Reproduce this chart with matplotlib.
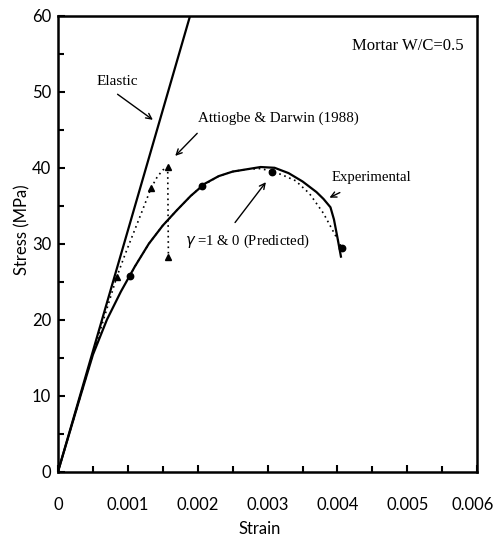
import matplotlib
matplotlib.use("Agg")
import matplotlib.pyplot as plt
from matplotlib.ticker import MultipleLocator, FixedLocator
from matplotlib.transforms import ScaledTranslation

plt.rcParams['font.family'] = ['Liberation Serif', 'DejaVu Serif']

# Elastic line
elastic_strain = [0.0, 0.00189]
elastic_stress = [0.0, 60.0]

# Experimental curve
exp_strain = [0.0, 0.0003, 0.0005, 0.0007, 0.0009, 0.0011, 0.0013, 0.0015, 0.0017,
              0.0019, 0.0021, 0.0023, 0.0025, 0.0027, 0.0029, 0.0031, 0.0033,
              0.0035, 0.0037, 0.0038, 0.0039, 0.00395, 0.0040, 0.00405]
exp_stress = [0.0, 9.3, 15.4, 20.0, 23.7, 27.0, 30.0, 32.4, 34.4,
              36.3, 37.9, 38.9, 39.5, 39.8, 40.1, 40.0, 39.3,
              38.2, 36.8, 35.9, 34.8, 33.2, 30.8, 28.3]

# Predicted (gamma = 1 & 0)
pred_strain = [0.00103, 0.0011, 0.0013, 0.0015, 0.0017, 0.0019, 0.00206, 0.0023,
               0.0025, 0.0027, 0.0029, 0.00307, 0.0032, 0.0034, 0.0036, 0.0038,
               0.0039, 0.0040, 0.00406]
pred_stress = [25.8, 27.0, 30.0, 32.4, 34.4, 36.3, 37.6, 38.9,
               39.5, 39.8, 39.9, 39.5, 39.1, 38.3, 36.6, 34.0,
               32.3, 30.6, 29.5]
pred_marker_idx = [0, 6, 11, 18]

# Attiogbe & Darwin (1988)
att_strain = [0.0, 0.0005, 0.00084, 0.00096, 0.00108, 0.0012, 0.00133, 0.00142,
              0.0015, 0.00157, 0.00158]
att_stress = [0.0, 15.5, 25.6, 28.6, 31.4, 34.2, 37.3, 38.8, 39.7, 40.1, 28.2]
att_marker_idx = [2, 6, 9, 10]

xtick_vals = [0, 0.001, 0.002, 0.003, 0.004, 0.005, 0.006]
xtick_labels = ['0', '0.001', '0.002', '0.003', '0.004', '0.005', '0.006']

fig = plt.figure(figsize=(4.96, 5.36), dpi=100)
ax = fig.add_axes([0.117, 0.1203, 0.845, 0.850])

ax.plot(elastic_strain, elastic_stress, color='black', lw=1.6)
ax.plot(exp_strain, exp_stress, color='black', lw=1.6)
ax.plot(pred_strain, pred_stress, color='black', lw=1.2, ls=(0, (1, 2.2)),
        marker='o', ms=4.6, markevery=pred_marker_idx)
ax.plot(att_strain, att_stress, color='black', lw=1.2, ls=(0, (1, 2.2)),
        marker='^', ms=4.6, markevery=att_marker_idx)

ax.set_xlim(0, 0.006)
ax.set_ylim(0, 60)
ax.xaxis.set_major_locator(FixedLocator(xtick_vals))
ax.set_xticklabels(xtick_labels)
ax.xaxis.set_minor_locator(MultipleLocator(0.0005))
ax.yaxis.set_major_locator(MultipleLocator(10))
ax.yaxis.set_minor_locator(MultipleLocator(5))
ax.tick_params(which='both', direction='in', width=1.5)
ax.tick_params(which='major', length=5)
ax.tick_params(which='minor', length=4)
ax.tick_params(axis='x', which='major', pad=18)
ax.tick_params(axis='y', which='major', pad=5)
for lab in ax.get_xticklabels() + ax.get_yticklabels():
    lab.set_fontfamily(['Lato', 'DejaVu Sans'])
    lab.set_fontsize(12)
last = ax.get_xticklabels()[-1]
last.set_transform(last.get_transform() + ScaledTranslation(-4 / 100, 0, fig.dpi_scale_trans))
for s in ax.spines.values():
    s.set_linewidth(1.8)

fig.text(260 / 496, 1 - 529 / 536, 'Strain', fontsize=12, ha='center', va='center',
         family=['Lato', 'DejaVu Sans'])
fig.text(22.5 / 496, 1 - 230 / 536, 'Stress (MPa)', fontsize=12, ha='center', va='center',
         rotation=90, family=['Lato', 'DejaVu Sans'])

ax.text(0.00501, 56.0, 'Mortar W/C=0.5', fontsize=12, ha='center', va='center')
ax.text(0.000846, 51.4, 'Elastic', fontsize=11, ha='center', va='center')
ax.annotate('', xy=(0.00139, 46.1), xytext=(0.00082, 49.9),
            arrowprops=dict(arrowstyle='->', color='black', lw=1.0))
ax.text(0.00201, 46.5, 'Attiogbe & Darwin (1988)', fontsize=10.8, ha='left', va='center')
ax.annotate('', xy=(0.00165, 41.3), xytext=(0.00202, 44.8),
            arrowprops=dict(arrowstyle='->', color='black', lw=1.0))
ax.text(0.00449, 38.7, 'Experimental', fontsize=10.6, ha='center', va='center')
ax.annotate('', xy=(0.00385, 35.9), xytext=(0.00407, 36.9),
            arrowprops=dict(arrowstyle='->', color='black', lw=1.0))
ax.text(0.00182, 30.3, r'$\gamma$ =1 & 0 (Predicted)', fontsize=10.6, ha='left', va='center')
ax.annotate('', xy=(0.00300, 38.4), xytext=(0.00251, 32.5),
            arrowprops=dict(arrowstyle='->', color='black', lw=1.0))

fig.savefig('out.png', dpi=100)
